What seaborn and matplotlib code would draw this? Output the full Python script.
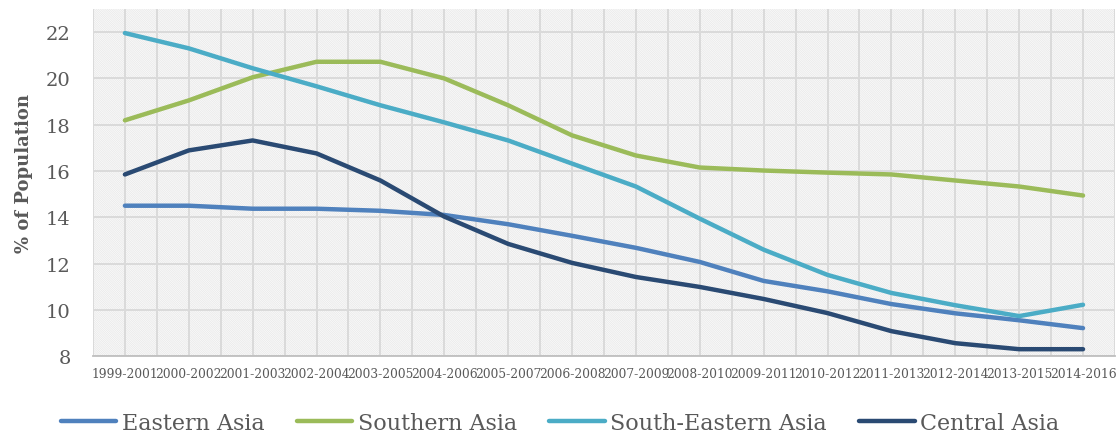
import matplotlib
matplotlib.use("Agg")
import matplotlib.pyplot as plt
from matplotlib.patches import Rectangle
import seaborn as sns
import pandas as pd

periods = ["1999-2001", "2000-2002", "2001-2003", "2002-2004", "2003-2005", "2004-2006",
           "2005-2007", "2006-2008", "2007-2009", "2008-2010", "2009-2011", "2010-2012",
           "2011-2013", "2012-2014", "2013-2015", "2014-2016"]
eastern_asia = [14.5, 14.5, 14.37, 14.37, 14.28, 14.1, 13.7, 13.2, 12.68, 12.07, 11.25, 10.8, 10.25, 9.85, 9.55, 9.21]
southern_asia = [18.19, 19.05, 20.05, 20.72, 20.72, 20.0, 18.84, 17.54, 16.67, 16.15, 16.02, 15.93, 15.85, 15.59, 15.33, 14.94]
south_eastern_asia = [21.96, 21.3, 20.44, 19.66, 18.84, 18.1, 17.32, 16.32, 15.33, 13.94, 12.6, 11.51, 10.73, 10.2, 9.73, 10.22]
central_asia = [15.85, 16.89, 17.32, 16.76, 15.59, 14.03, 12.85, 12.03, 11.42, 10.99, 10.47, 9.86, 9.08, 8.56, 8.3, 8.3]

series_names = ["Eastern Asia", "Southern Asia", "South-Eastern Asia", "Central Asia"]
series_values = [eastern_asia, southern_asia, south_eastern_asia, central_asia]
colors = ["#4F81BD", "#9BBB59", "#4BACC6", "#2A4A73"]

rows = []
for name, vals in zip(series_names, series_values):
    for p, v in zip(periods, vals):
        rows.append({"Period": p, "Value": v, "Region": name})
df = pd.DataFrame(rows)

sns.set_theme(style="white")
plt.rcParams["font.family"] = ["DejaVu Serif"]
plt.rcParams["hatch.linewidth"] = 0.5

fig = plt.figure(figsize=(11.2, 4.35), dpi=100)
ax = fig.add_axes([0.083, 0.179, 0.9125, 0.798])
ax.patch.set_facecolor("white")
bg = Rectangle((0, 0), 1, 1, transform=ax.transAxes, facecolor="none",
               edgecolor="#E6E6E6", linewidth=0, hatch="\\" * 18, zorder=0)
ax.add_patch(bg)

sns.lineplot(data=df, x="Period", y="Value", hue="Region", hue_order=series_names,
             palette=colors, linewidth=3.2, sort=False, ax=ax, legend=False, zorder=3)

ax.set_xlim(-0.5, len(periods) - 0.5)
ax.set_ylim(8, 23)
ax.set_yticks(range(8, 23, 2))
ax.set_xticks(range(len(periods)))
ax.set_xticklabels(periods)
ax.set_xticks([i + 0.5 for i in range(-1, len(periods))], minor=True)
ax.grid(True, which="major", axis="both", color="#DADADA", linewidth=1.4, zorder=1)
ax.grid(True, which="minor", axis="x", color="#DADADA", linewidth=1.4, zorder=1)
ax.set_axisbelow(True)

for s in ["left", "top", "right"]:
    ax.spines[s].set_visible(False)
ax.spines["bottom"].set_color("#BFBFBF")
ax.spines["bottom"].set_linewidth(1.3)

ax.tick_params(axis="x", labelsize=8.8, colors="#595959", length=0, pad=8, which="both")
ax.tick_params(axis="y", labelsize=14, colors="#595959", length=0, pad=16)
ax.set_xlabel("")
ax.set_ylabel("% of Population", fontsize=13, fontweight="bold", color="#595959")
ax.yaxis.set_label_coords(-0.059, 0.53)

handles = [plt.Line2D([], [], color=c, linewidth=3.2) for c in colors]
fig.legend(handles, series_names, loc="lower center", bbox_to_anchor=(0.5, -0.045), ncol=4,
           frameon=False, fontsize=16, handlelength=2.5, columnspacing=1.45,
           labelcolor="#595959", handletextpad=0.25)

fig.savefig("out.png", dpi=100)
